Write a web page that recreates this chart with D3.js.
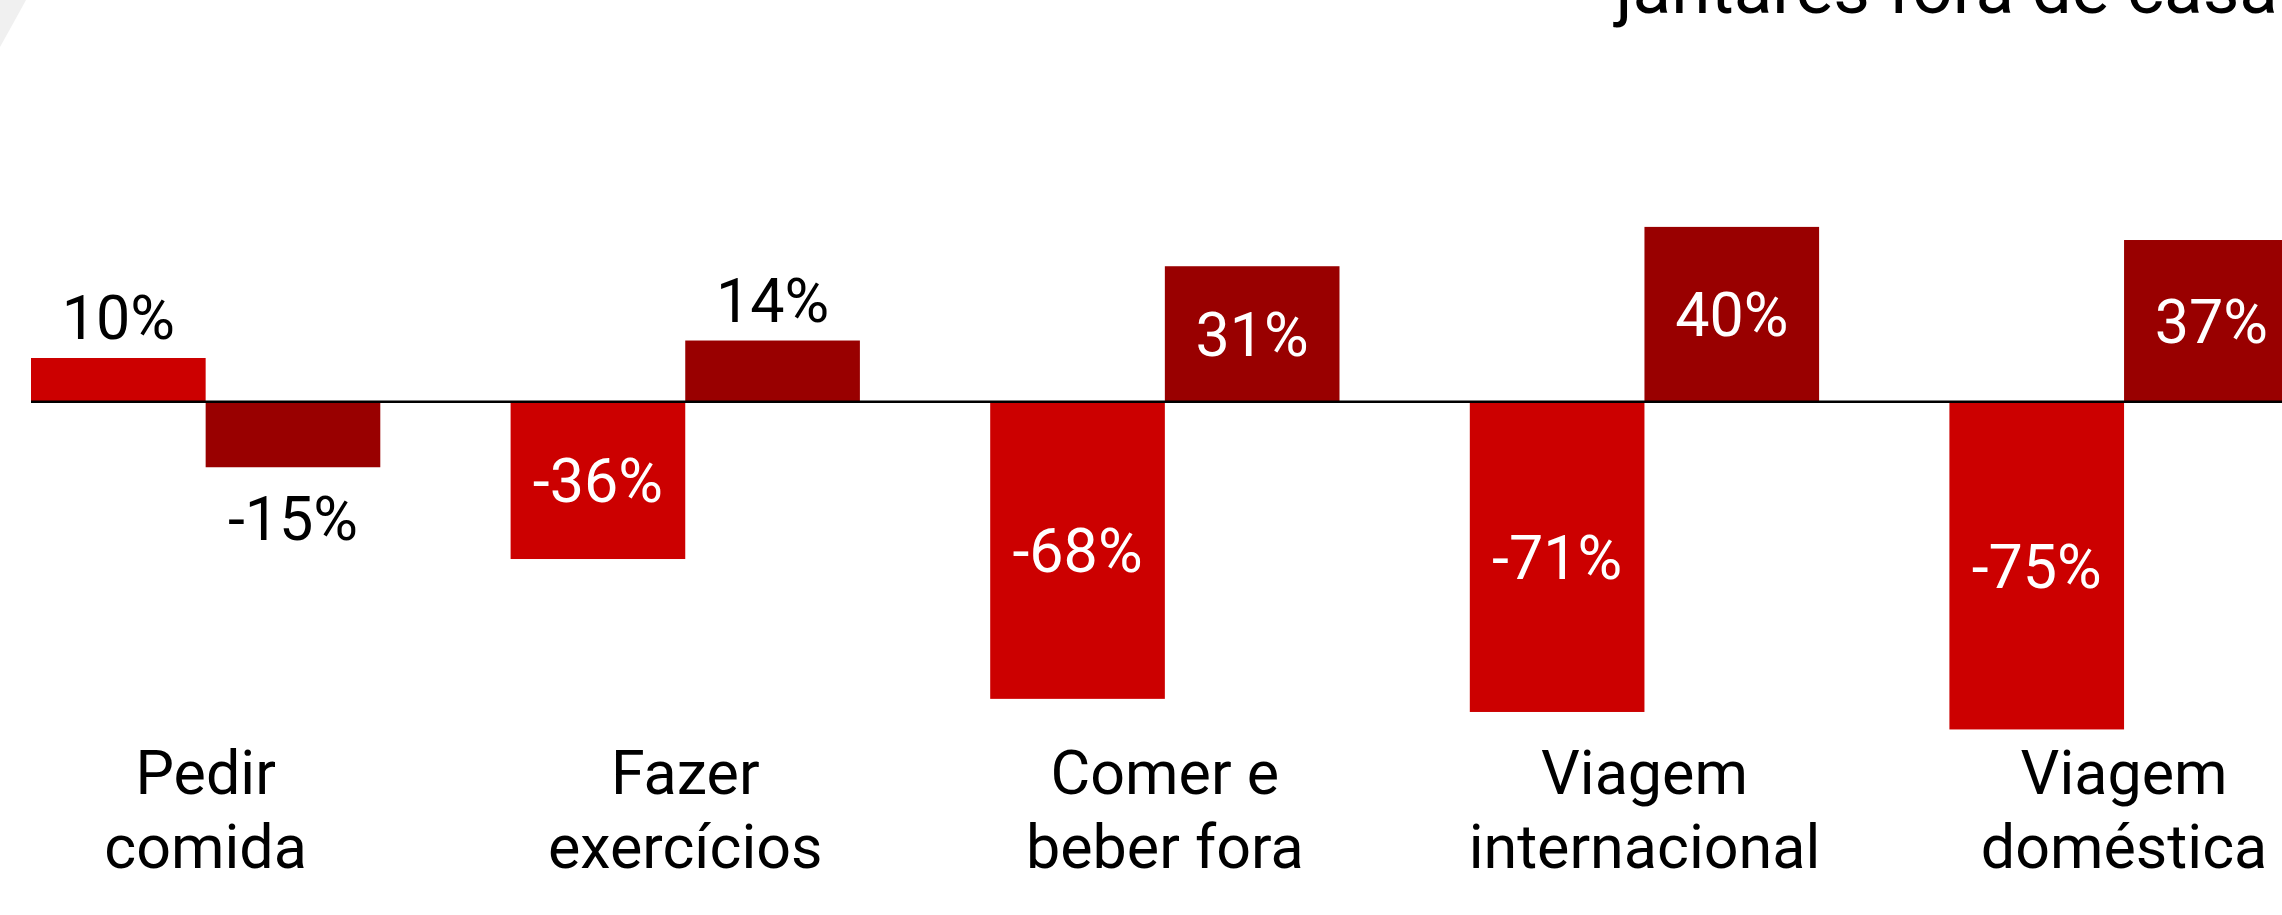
<!DOCTYPE html>
<html>
<head>
<meta charset="utf-8">
<script src="https://cdn.jsdelivr.net/npm/d3@7"></script>
<style>
    html, body { margin: 0; padding: 0; background: #fff; overflow: hidden; }
    svg { display: block; font-family: Roboto, "Liberation Sans", sans-serif; }
</style>
</head>
<body>
<div id="chart"></div>
<script>
// Change per activity, two periods side by side
const categories = ['Pedir comida', 'Fazer exercícios', 'Comer e beber fora', 'Viagem internacional', 'Viagem doméstica'];
const categoryLines = [['Pedir', 'comida'], ['Fazer', 'exercícios'], ['Comer e', 'beber fora'], ['Viagem', 'internacional'], ['Viagem', 'doméstica']];
const seriesKeys = ['first', 'second'];
const firstValues = [0.10, -0.36, -0.68, -0.71, -0.75];
const secondValues = [-0.15, 0.14, 0.31, 0.40, 0.37];
const titleTail = 'jantares fora de casa';

const COLORS = { first: '#cc0000', second: '#990000' };

const width = 2282;
const height = 915;
const fontSize = 61;

const svg = d3.select('#chart')
    .append('svg')
    .attr('width', width)
    .attr('height', height);

// light grey corner shape at top-left
svg.append('path')
    .attr('d', 'M0,0 L26,0 Q14,22 0,47 Z')
    .attr('fill', '#f0f0f0');

// title fragment, cut by the top edge
svg.append('text')
    .attr('x', 2278)
    .attr('y', 13)
    .attr('text-anchor', 'end')
    .attr('font-size', '71px')
    .attr('fill', '#000')
    .text(titleTail);

const data = categories.map((c, i) => ({
    category: c,
    lines: categoryLines[i],
    first: firstValues[i],
    second: secondValues[i]
}));

// Scales
const x0 = d3.scaleBand()
    .domain(categories)
    .range([31, 2298.7])
    .paddingInner(0.2717)
    .paddingOuter(0)
    .align(0);

const x1 = d3.scaleBand()
    .domain(seriesKeys)
    .range([0, x0.bandwidth()])
    .padding(0);

const y = d3.scaleLinear()
    .domain([-0.8, 0.45])
    .range([401.7 + 0.8 * 437, 401.7 - 0.45 * 437]);

const groups = svg.append('g')
    .selectAll('g')
    .data(data)
    .join('g')
    .attr('transform', d => `translate(${x0(d.category)},0)`);

const bars = groups.selectAll('g.bar')
    .data(d => seriesKeys.map(k => ({ key: k, value: d[k] })))
    .join('g')
    .attr('class', 'bar');

bars.append('rect')
    .attr('x', d => x1(d.key))
    .attr('width', x1.bandwidth())
    .attr('y', d => y(Math.max(0, d.value)))
    .attr('height', d => Math.abs(y(d.value) - y(0)))
    .attr('fill', d => COLORS[d.key]);

// Value labels: inside when the bar is tall enough, outside otherwise
bars.append('text')
    .attr('x', d => x1(d.key) + x1.bandwidth() / 2)
    .attr('y', d => {
        const inside = Math.abs(d.value) >= 0.2;
        if (inside) return (y(d.value) + y(0)) / 2 + fontSize * 0.36;
        if (d.value >= 0) return y(d.value) - 19;
        return y(d.value) + 29 + fontSize * 0.71;
    })
    .attr('text-anchor', 'middle')
    .attr('font-size', `${fontSize}px`)
    .attr('fill', d => Math.abs(d.value) >= 0.2 ? '#fff' : '#000')
    .text(d => `${Math.round(d.value * 100)}%`);

// zero line
svg.append('line')
    .attr('x1', x0.range()[0])
    .attr('x2', width)
    .attr('y1', y(0))
    .attr('y2', y(0))
    .attr('stroke', '#000')
    .attr('stroke-width', 2.5);

// Category labels
const catLabels = svg.append('g')
    .selectAll('text')
    .data(data)
    .join('text')
    .attr('x', d => x0(d.category) + x0.bandwidth() / 2)
    .attr('y', 794)
    .attr('text-anchor', 'middle')
    .attr('font-size', `${fontSize}px`)
    .attr('fill', '#000');

catLabels.selectAll('tspan')
    .data(d => d.lines)
    .join('tspan')
    .attr('x', function () { return d3.select(this.parentNode).attr('x'); })
    .attr('dy', (d, i) => i === 0 ? 0 : 74)
    .text(d => d);
</script>
</body>
</html>
